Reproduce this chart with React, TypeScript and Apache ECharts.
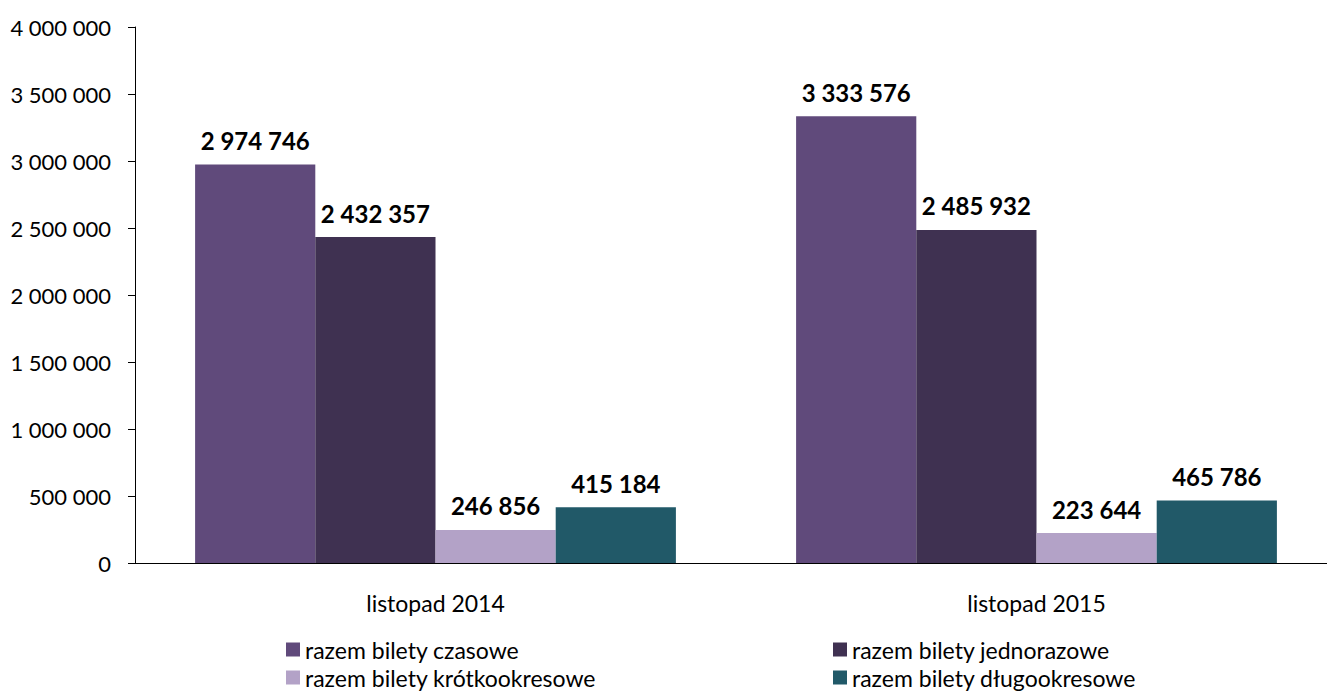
import React, { useEffect, useRef } from "react";
import * as echarts from "echarts";

const categories = ["listopad 2014", "listopad 2015"];
const seriesNames = [
  "razem bilety czasowe",
  "razem bilety jednorazowe",
  "razem bilety krótkookresowe",
  "razem bilety długookresowe",
];
const czasowe = [2974746, 3333576];
const jednorazowe = [2432357, 2485932];
const krotkookresowe = [246856, 223644];
const dlugookresowe = [415184, 465786];
const colors = ["#604A7B", "#3F3151", "#B3A2C7", "#215968"];

const FONT = "Lato";

function fmt(v: number): string {
  return String(Math.round(v)).replace(/\B(?=(\d{3})+(?!\d))/g, " ");
}

export default function App() {
  const ref = useRef<HTMLDivElement>(null);
  useEffect(() => {
    if (!ref.current) return;
    const chart = echarts.init(ref.current, undefined, { renderer: "svg" });
    const values = [czasowe, jednorazowe, krotkookresowe, dlugookresowe];
    const legendCommon = {
      orient: "horizontal",
      padding: 0,
      itemWidth: 14,
      itemHeight: 14,
      icon: "rect",
      textStyle: { fontFamily: FONT, fontSize: 23, color: "#000", lineHeight: 22 },
    };
    const legendPos = [
      { left: 286, top: 638 },
      { left: 833, top: 638 },
      { left: 286, top: 666 },
      { left: 833, top: 666 },
    ];
    chart.setOption({
      animation: false,
      grid: {
        left: 135,
        top: 27,
        width: 1202,
        height: 536,
        containLabel: false,
        outerBoundsMode: "none",
      },
      legend: seriesNames.map((n, i) => ({ ...legendCommon, ...legendPos[i], data: [n] })),
      xAxis: {
        type: "category",
        data: categories,
        axisLine: { lineStyle: { color: "#000", width: 1 } },
        axisTick: { show: false },
        axisLabel: { fontFamily: FONT, fontSize: 23, color: "#000", margin: 28 },
      },
      yAxis: {
        type: "value",
        min: 0,
        max: 4000000,
        interval: 500000,
        axisLine: { show: true, lineStyle: { color: "#000", width: 1 } },
        axisTick: { show: true, length: 7, lineStyle: { color: "#000" } },
        splitLine: { show: false },
        axisLabel: {
          fontFamily: FONT,
          fontSize: 22,
          color: "#000",
          margin: 24,
          formatter: (v: number) => fmt(v),
        },
      },
      series: values.map((arr, i) => ({
        name: seriesNames[i],
        type: "bar",
        data: arr,
        barGap: "0%",
        barCategoryGap: "20%",
        itemStyle: { color: colors[i] },
        label: {
          show: true,
          position: "top",
          distance: 12,
          fontFamily: FONT,
          fontWeight: "bold",
          fontSize: 24,
          color: "#000",
          formatter: (p: any) => fmt(p.value),
        },
      })),
    });
    return () => chart.dispose();
  }, []);
  return (
    <div
      ref={ref}
      style={{ position: "fixed", left: 0, top: 0, width: 1327, height: 692, background: "#fff" }}
    />
  );
}
